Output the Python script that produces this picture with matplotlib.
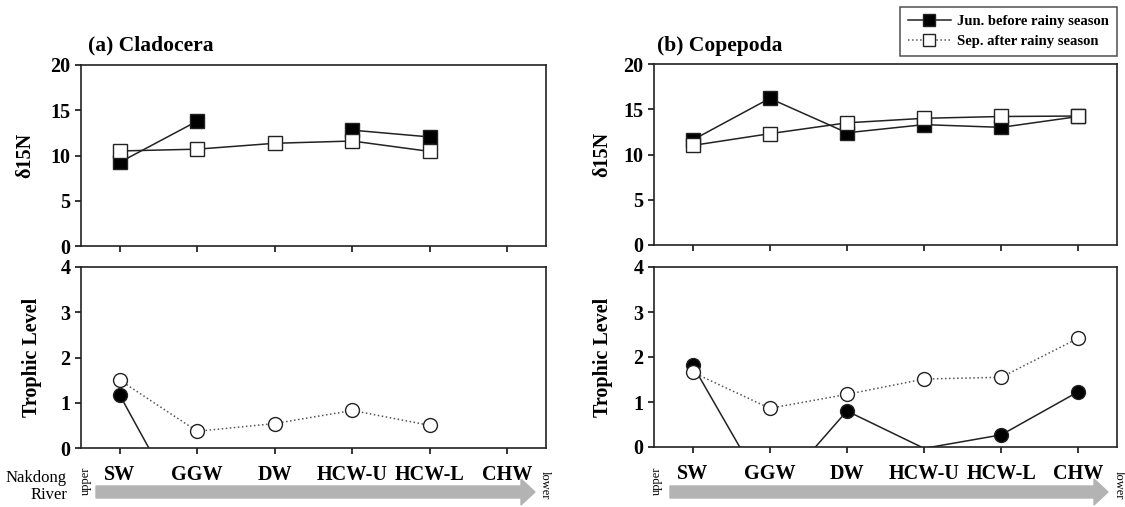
import numpy as np
import matplotlib
matplotlib.use('Agg')
import matplotlib.pyplot as plt
from matplotlib.patches import FancyArrow
from matplotlib.lines import Line2D

plt.rcParams['font.family'] = ['Liberation Serif', 'DejaVu Serif']

sites = ['SW', 'GGW', 'DW', 'HCW-U', 'HCW-L', 'CHW']

# delta 15N
clad_n_jun = [9.25, 13.8, np.nan, 12.8, 12.05, np.nan]
clad_n_sep = [10.5, 10.7, 11.35, 11.6, 10.45, np.nan]
cope_n_jun = [11.6, 16.2, 12.4, 13.3, 13.0, 14.2]
cope_n_sep = [11.0, 12.3, 13.5, 14.0, 14.2, 14.25]

# trophic level
clad_tl_jun = [1.17, -1.95, np.nan, -0.1, -0.5, np.nan]
clad_tl_sep = [1.50, 0.37, 0.54, 0.83, 0.50, np.nan]
cope_tl_jun = [1.82, -1.16, 0.80, -0.03, 0.27, 1.23]
cope_tl_sep = [1.66, 0.86, 1.17, 1.51, 1.55, 2.42]

W, H = 1125, 507
fig = plt.figure(figsize=(W / 100, H / 100), dpi=100)


def box(l, t, r, b):
    return [l / W, (H - b) / H, (r - l) / W, (b - t) / H]


ax_ct = fig.add_axes(box(81, 65, 546, 246))
ax_cb = fig.add_axes(box(81, 267, 546, 448))
ax_pt = fig.add_axes(box(654, 64, 1117, 245))
ax_pb = fig.add_axes(box(654, 267, 1117, 447))

x = np.arange(len(sites))


def style(ax, ymax, step, ylabel, labels, labx):
    ax.set_xlim(-0.5, 5.5)
    ax.set_ylim(0, ymax)
    ax.set_yticks(np.arange(0, ymax + 0.1, step))
    ax.set_xticks(x)
    for s in ax.spines.values():
        s.set_linewidth(1.2)
        s.set_color('#222222')
    ax.tick_params(direction='out', length=4, width=1.1, labelsize=14.5)
    for t in ax.get_yticklabels():
        t.set_fontweight('bold')
    if labels:
        ax.set_xticklabels(sites, fontsize=14.5, fontweight='bold')
        ax.tick_params(axis='x', pad=8)
    else:
        ax.set_xticklabels([])
    ax.set_ylabel(ylabel, fontsize=14.5, fontweight='bold')
    ax.yaxis.set_label_coords(labx, 0.5)


def squares(ax, jun, sep):
    ax.plot(x, jun, '-', color='#222222', lw=1.1, marker='s', ms=9.5,
            mfc='black', mec='#222222', mew=1, zorder=3)
    ax.plot(x, sep, '-', color='#222222', lw=1.1, marker='s', ms=9.5,
            mfc='white', mec='#222222', mew=1, zorder=4)


def circles(ax, jun, sep):
    jun = np.array(jun)
    sep = np.array(sep)
    ax.plot(x, jun, '-', color='#222222', lw=1.1, zorder=3)
    ax.plot(x, np.where(jun >= 0, jun, np.nan), 'o', ms=10,
            mfc='black', mec='#222222', mew=1, zorder=3)
    ax.plot(x, sep, ':', color='#555555', lw=1.1, zorder=4)
    ax.plot(x, np.where(sep >= 0, sep, np.nan), 'o', ms=10,
            mfc='white', mec='#222222', mew=1, zorder=4)


squares(ax_ct, clad_n_jun, clad_n_sep)
squares(ax_pt, cope_n_jun, cope_n_sep)
circles(ax_cb, clad_tl_jun, clad_tl_sep)
circles(ax_pb, cope_tl_jun, cope_tl_sep)

style(ax_ct, 20, 5, 'δ15N', False, -0.099)
style(ax_pt, 20, 5, 'δ15N', False, -0.091)
style(ax_cb, 4, 1, 'Trophic Level', True, -0.084)
style(ax_pb, 4, 1, 'Trophic Level', True, -0.089)

fig.text(88 / W, 1 - 45 / H, '(a) Cladocera', fontsize=15.5,
         fontweight='bold', va='center', ha='left')
fig.text(657 / W, 1 - 46 / H, '(b) Copepoda', fontsize=15.5,
         fontweight='bold', va='center', ha='left')

# river arrows
for x0, x1 in ((96, 535), (670, 1108)):
    fig.patches.append(FancyArrow(x0 / 100, (H - 492) / 100, (x1 - x0) / 100, 0,
                                  width=0.12, head_width=0.26, head_length=0.14,
                                  length_includes_head=True, color='#b3b3b3',
                                  transform=fig.dpi_scale_trans))

fig.text(67 / W, 1 - 478 / H, 'Nakdong', fontsize=12, ha='right', va='center')
fig.text(67 / W, 1 - 495 / H, 'River', fontsize=12, ha='right', va='center')
fig.text(86 / W, 1 - 481 / H, 'upper', fontsize=9, rotation=90, ha='center', va='center')
fig.text(545 / W, 1 - 485 / H, 'lower', fontsize=9, rotation=270, ha='center', va='center')
fig.text(657 / W, 1 - 481 / H, 'upper', fontsize=9, rotation=90, ha='center', va='center')
fig.text(1119 / W, 1 - 485 / H, 'lower', fontsize=9, rotation=270, ha='center', va='center')

handles = [
    Line2D([], [], color='#222222', lw=1.1, marker='s', ms=9, mfc='black', mec='#222222'),
    Line2D([], [], color='#555555', lw=1.1, ls=':', marker='s', ms=9, mfc='white', mec='#222222'),
]
leg = fig.legend(handles, ['Jun. before rainy season', 'Sep. after rainy season'],
                 loc='upper right', bbox_to_anchor=(1117 / W, 1 - 7 / H),
                 borderaxespad=0, fancybox=False, edgecolor='#222222',
                 prop={'size': 10.5, 'weight': 'bold'}, handlelength=3,
                 handletextpad=0.4, labelspacing=0.45, borderpad=0.55)
leg.get_frame().set_linewidth(1.1)

fig.savefig('out.png', dpi=100)
